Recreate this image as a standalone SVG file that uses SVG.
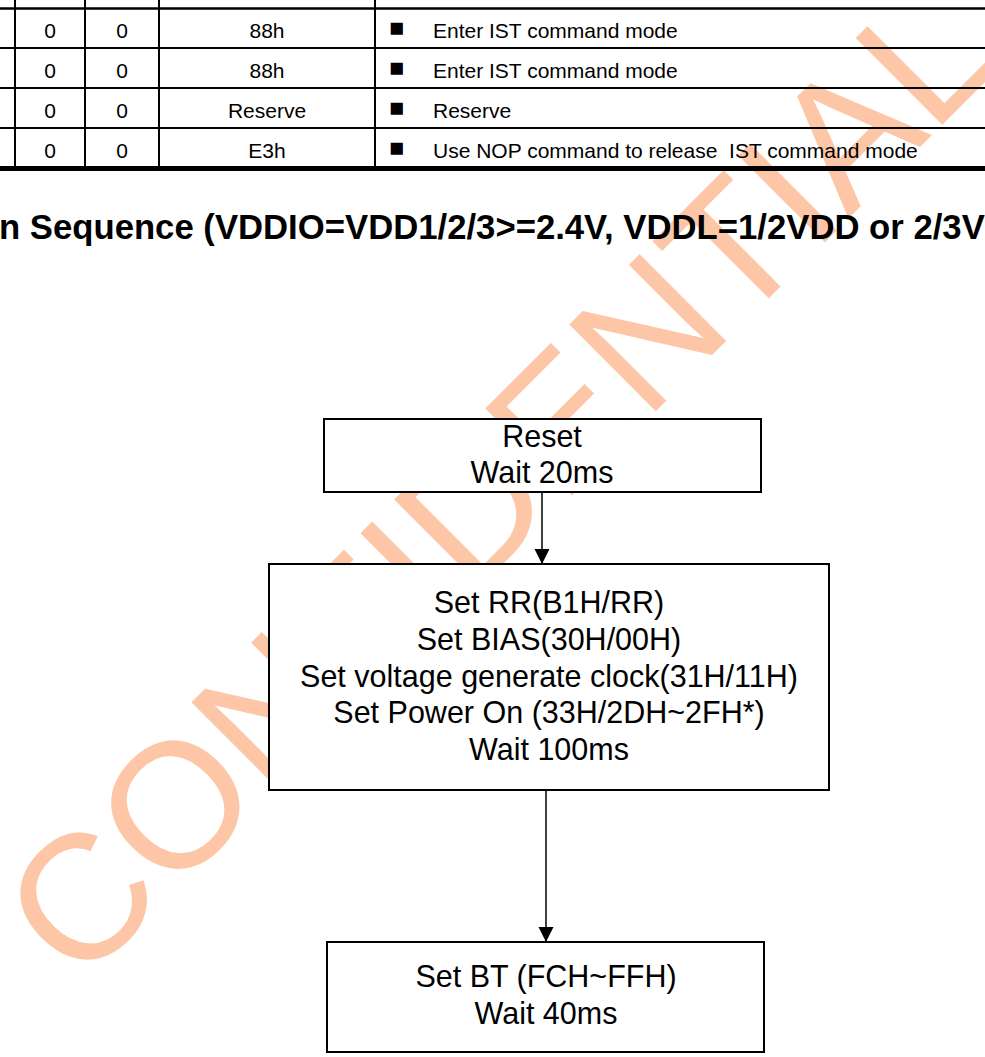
<svg xmlns="http://www.w3.org/2000/svg" width="985" height="1057" viewBox="0 0 985 1057">
<style>
.t{font-family:"Liberation Sans",Arial,sans-serif;fill:#000}
.cell{font-size:21px}
.bul{font-size:25px}
.title{font-size:34.7px;font-weight:bold}
.box{fill:#fff;stroke:#000;stroke-width:2}
.lbl{font-size:30.5px;text-anchor:middle}
.wm{font-family:"Liberation Sans",Arial,sans-serif;font-size:178px;fill:#FDC6A6}
.grid{stroke:#000}
</style>
<defs>
<marker id="arr" markerUnits="userSpaceOnUse" markerWidth="16" markerHeight="16" viewBox="0 0 16 16" refX="15" refY="8" orient="auto">
<path d="M0,0.5 L15,8 L0,15.5 Z" fill="#000"/>
</marker>
</defs>
<rect width="985" height="1057" fill="#fff"/>
<g id="watermark">
<text class="wm" transform="translate(79,988) rotate(-45)">CONFIDENTIAL</text>
</g>
<g id="table">
<line class="grid" x1="0" y1="8.5" x2="985" y2="8.5" stroke-width="2.5"/>
<line class="grid" x1="0" y1="48" x2="985" y2="48" stroke-width="2"/>
<line class="grid" x1="0" y1="88" x2="985" y2="88" stroke-width="2"/>
<line class="grid" x1="0" y1="128" x2="985" y2="128" stroke-width="2"/>
<line class="grid" x1="0" y1="168.5" x2="985" y2="168.5" stroke-width="5"/>
<line class="grid" x1="15" y1="0" x2="15" y2="168" stroke-width="2"/>
<line class="grid" x1="85" y1="0" x2="85" y2="168" stroke-width="2"/>
<line class="grid" x1="159" y1="0" x2="159" y2="168" stroke-width="2"/>
<line class="grid" x1="375" y1="0" x2="375" y2="168" stroke-width="2"/>
<g class="t cell" text-anchor="middle">
<text x="50" y="37.5">0</text><text x="122" y="37.5">0</text><text x="267" y="37.5">88h</text>
<text x="50" y="77.5">0</text><text x="122" y="77.5">0</text><text x="267" y="77.5">88h</text>
<text x="50" y="117.5">0</text><text x="122" y="117.5">0</text><text x="267" y="117.5">Reserve</text>
<text x="50" y="157.5">0</text><text x="122" y="157.5">0</text><text x="267" y="157.5">E3h</text>
</g>
<g class="t bul">
<text x="389" y="35.5">■</text>
<text x="389" y="75.5">■</text>
<text x="389" y="115.5">■</text>
<text x="389" y="155.5">■</text>
</g>
<g class="t cell">
<text x="433" y="37.5">Enter IST command mode</text>
<text x="433" y="77.5">Enter IST command mode</text>
<text x="433" y="117.5">Reserve</text>
<text x="433" y="157.5" xml:space="preserve">Use NOP command to release  IST command mode</text>
</g>
</g>
<g id="title">
<text class="t title" x="-1" y="239">n Sequence (VDDIO=VDD1/2/3&gt;=2.4V, VDDL=1/2VDD or 2/3V</text>
</g>
<g id="connectors" stroke="#000" stroke-width="1.5" fill="none">
<line x1="542" y1="492" x2="542" y2="564" marker-end="url(#arr)"/>
<line x1="546" y1="790" x2="546" y2="942" marker-end="url(#arr)"/>
</g>
<g id="node-reset">
<rect class="box" x="324" y="419" width="437" height="73"/>
<text class="t lbl" x="542" y="446.5">Reset</text>
<text class="t lbl" x="542" y="482.5">Wait 20ms</text>
</g>
<g id="node-power">
<rect class="box" x="269" y="564" width="560" height="226"/>
<text class="t lbl" x="549" y="613">Set RR(B1H/RR)</text>
<text class="t lbl" x="549" y="650">Set BIAS(30H/00H)</text>
<text class="t lbl" x="549" y="687">Set voltage generate clock(31H/11H)</text>
<text class="t lbl" x="549" y="723">Set Power On (33H/2DH~2FH*)</text>
<text class="t lbl" x="549" y="760">Wait 100ms</text>
</g>
<g id="node-bt">
<rect class="box" x="327" y="942" width="437" height="110"/>
<text class="t lbl" x="546" y="987">Set BT (FCH~FFH)</text>
<text class="t lbl" x="546" y="1024">Wait 40ms</text>
</g>
</svg>
